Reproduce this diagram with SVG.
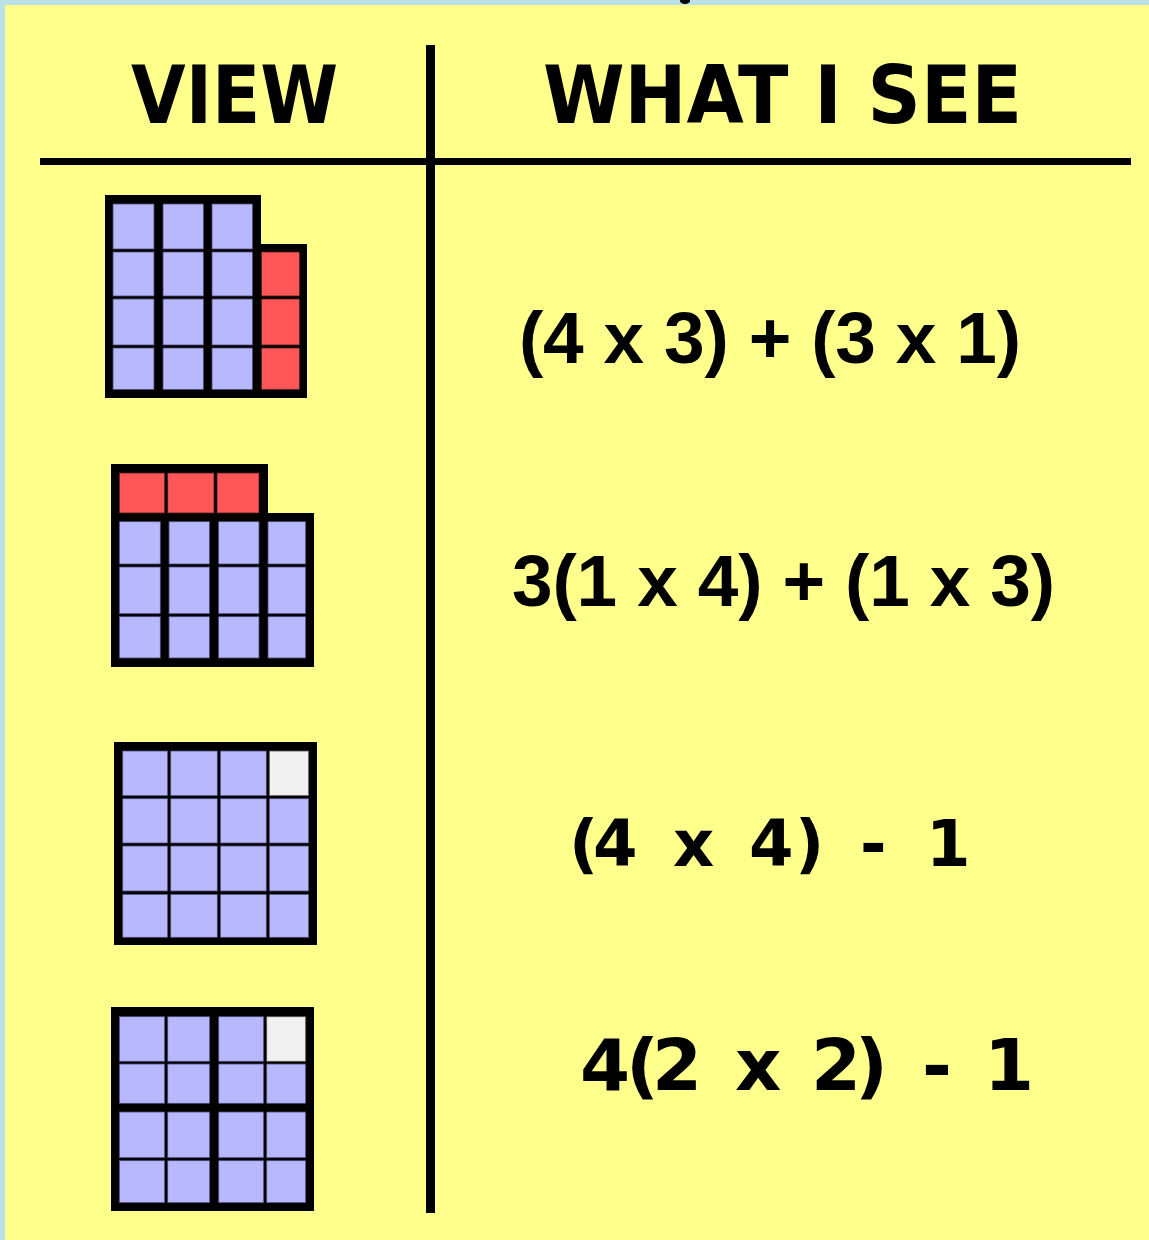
<svg xmlns="http://www.w3.org/2000/svg" width="1149" height="1240" viewBox="0 0 1149 1240">
<style>
.hdr{font-family:"DejaVu Sans","Liberation Sans",sans-serif;font-weight:bold;fill:#000}
.exa{font-family:"Liberation Sans",Arial,sans-serif;font-weight:bold;fill:#000}
.exc{font-family:"DejaVu Sans","Liberation Sans",sans-serif;font-weight:bold;fill:#000}
.b{fill:#b8b8ff;stroke:#4a4a70;stroke-width:0.8}
.r{fill:#ff5757;stroke:#4a2020;stroke-width:0.8}
.g{fill:#f0f0f0;stroke:#555;stroke-width:0.8}
.frame{fill:#000}
</style>
<rect x="0" y="0" width="1149" height="1240" fill="#b9e1e6"/>
<rect x="5" y="5" width="1144" height="1235" fill="#ffff8c"/>
<ellipse cx="685" cy="1" rx="5" ry="3" fill="#000"/>

<g id="rules">
<rect x="426" y="45" width="9" height="1168" fill="#000"/>
<rect x="40" y="158" width="1091" height="7" fill="#000"/>
</g>

<g id="header-view"><text class="hdr" x="131" y="123" font-size="80" textLength="207" lengthAdjust="spacingAndGlyphs">VIEW</text></g>
<g id="header-what"><text class="hdr" x="543" y="123" font-size="80" textLength="479" lengthAdjust="spacingAndGlyphs">WHAT I SEE</text></g>

<g id="grid1">
<path class="frame" d="M105 195 H261 V244 H307 V398 H105 Z"/>
<rect class="b" x="113" y="204" width="41" height="45"/>
<rect class="b" x="163" y="204" width="40.5" height="45"/>
<rect class="b" x="212" y="204" width="40.5" height="45"/>
<rect class="b" x="113" y="252" width="41" height="44"/>
<rect class="b" x="163" y="252" width="40.5" height="44"/>
<rect class="b" x="212" y="252" width="40.5" height="44"/>
<rect class="r" x="261.5" y="252" width="38" height="44"/>
<rect class="b" x="113" y="299" width="41" height="46"/>
<rect class="b" x="163" y="299" width="40.5" height="46"/>
<rect class="b" x="212" y="299" width="40.5" height="46"/>
<rect class="r" x="261.5" y="299" width="38" height="46"/>
<rect class="b" x="113" y="348" width="41" height="41.5"/>
<rect class="b" x="163" y="348" width="40.5" height="41.5"/>
<rect class="b" x="212" y="348" width="40.5" height="41.5"/>
<rect class="r" x="261.5" y="348" width="38" height="41.5"/>
</g>
<g id="expr1"><text class="exa" x="519" y="363" font-size="73" textLength="502" lengthAdjust="spacing">(4 x 3) + (3 x 1)</text></g>

<g id="grid2">
<path class="frame" d="M111 464 H268 V513 H314 V667 H111 Z"/>
<rect class="r" x="119.3" y="473" width="45.4" height="40"/>
<rect class="r" x="167.7" y="473" width="46.3" height="40"/>
<rect class="r" x="217" y="473" width="42" height="40"/>
<rect class="b" x="119.3" y="521.7" width="41" height="42.3"/>
<rect class="b" x="169" y="521.7" width="40.5" height="42.3"/>
<rect class="b" x="218.5" y="521.7" width="40.5" height="42.3"/>
<rect class="b" x="268" y="521.7" width="37.7" height="42.3"/>
<rect class="b" x="119.3" y="567" width="41" height="46.7"/>
<rect class="b" x="169" y="567" width="40.5" height="46.7"/>
<rect class="b" x="218.5" y="567" width="40.5" height="46.7"/>
<rect class="b" x="268" y="567" width="37.7" height="46.7"/>
<rect class="b" x="119.3" y="616.7" width="41" height="41.3"/>
<rect class="b" x="169" y="616.7" width="40.5" height="41.3"/>
<rect class="b" x="218.5" y="616.7" width="40.5" height="41.3"/>
<rect class="b" x="268" y="616.7" width="37.7" height="41.3"/>
</g>
<g id="expr2"><text class="exa" x="512" y="606" font-size="73" textLength="543" lengthAdjust="spacing">3(1 x 4) + (1 x 3)</text></g>

<g id="grid3">
<rect class="frame" x="114" y="742" width="203" height="203"/>
<rect class="b" x="122.7" y="751" width="45" height="44.7"/>
<rect class="b" x="170.7" y="751" width="46.6" height="44.7"/>
<rect class="b" x="220.3" y="751" width="46" height="44.7"/>
<rect class="g" x="269.3" y="751" width="39.4" height="44.7"/>
<rect class="b" x="122.7" y="798.7" width="45" height="44.3"/>
<rect class="b" x="170.7" y="798.7" width="46.6" height="44.3"/>
<rect class="b" x="220.3" y="798.7" width="46" height="44.3"/>
<rect class="b" x="269.3" y="798.7" width="39.4" height="44.3"/>
<rect class="b" x="122.7" y="846" width="45" height="45"/>
<rect class="b" x="170.7" y="846" width="46.6" height="45"/>
<rect class="b" x="220.3" y="846" width="46" height="45"/>
<rect class="b" x="269.3" y="846" width="39.4" height="45"/>
<rect class="b" x="122.7" y="894.3" width="45" height="43"/>
<rect class="b" x="170.7" y="894.3" width="46.6" height="43"/>
<rect class="b" x="220.3" y="894.3" width="46" height="43"/>
<rect class="b" x="269.3" y="894.3" width="39.4" height="43"/>
</g>
<g id="expr3"><text class="exc" y="866" font-size="64" x="569 593 640 673 715 749 795 830 860 900 926">(4 x 4) - 1</text></g>

<g id="grid4">
<rect class="frame" x="111" y="1007" width="203" height="204"/>
<rect class="b" x="119.3" y="1016.7" width="45.4" height="44.6"/>
<rect class="b" x="167.7" y="1016.7" width="42" height="44.6"/>
<rect class="b" x="218.7" y="1016.7" width="45" height="44.6"/>
<rect class="g" x="266.7" y="1016.7" width="39" height="44.6"/>
<rect class="b" x="119.3" y="1064" width="45.4" height="39.3"/>
<rect class="b" x="167.7" y="1064" width="42" height="39.3"/>
<rect class="b" x="218.7" y="1064" width="45" height="39.3"/>
<rect class="b" x="266.7" y="1064" width="39" height="39.3"/>
<rect class="b" x="119.3" y="1112" width="45.4" height="45.7"/>
<rect class="b" x="167.7" y="1112" width="42" height="45.7"/>
<rect class="b" x="218.7" y="1112" width="45" height="45.7"/>
<rect class="b" x="266.7" y="1112" width="39" height="45.7"/>
<rect class="b" x="119.3" y="1160.7" width="45.4" height="42"/>
<rect class="b" x="167.7" y="1160.7" width="42" height="42"/>
<rect class="b" x="218.7" y="1160.7" width="45" height="42"/>
<rect class="b" x="266.7" y="1160.7" width="39" height="42"/>
</g>
<g id="expr4"><text class="exc" y="1090" font-size="72" x="580 626 652 700 735 780 811 855 885 922 960 984">4(2 x 2) - 1</text></g>
</svg>
